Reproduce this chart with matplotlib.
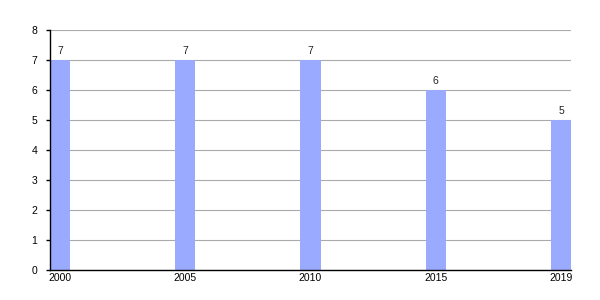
import matplotlib
matplotlib.use("Agg")
import matplotlib.pyplot as plt

years = ["2000", "2005", "2010", "2015", "2019"]
values = [7, 7, 7, 6, 5]

plt.rcParams['font.family'] = ['Liberation Sans', 'DejaVu Sans']

fig = plt.figure(figsize=(6, 3), dpi=100)
ax = fig.add_axes([50/600, 30/300, 521/600, 240/300])

x = list(range(len(years)))
ax.bar(x, values, width=0.16, color="#99aaff", zorder=2)
for xi, v in zip(x, values):
    ax.text(xi, v + 0.12, str(v), ha="center", va="bottom", fontsize=7.5, color="#222222")

ax.set_xlim(-0.08, len(years) - 1 + 0.08)
ax.set_ylim(0, 8)
ax.set_yticks(range(0, 9))
ax.set_xticks(x)
ax.set_xticklabels(years)
ax.tick_params(axis="x", length=0, labelsize=7.5, pad=2)
ax.tick_params(axis="y", length=3, width=1, labelsize=7.5, pad=6)
ax.yaxis.grid(True, color="#aaaaaa", linewidth=0.8, zorder=1)
ax.set_axisbelow(True)
for s in ["top", "right"]:
    ax.spines[s].set_visible(False)
ax.spines["left"].set_linewidth(1)
ax.spines["bottom"].set_linewidth(1)
ax.spines["bottom"].set_zorder(3)

fig.savefig("out.png", dpi=100)
